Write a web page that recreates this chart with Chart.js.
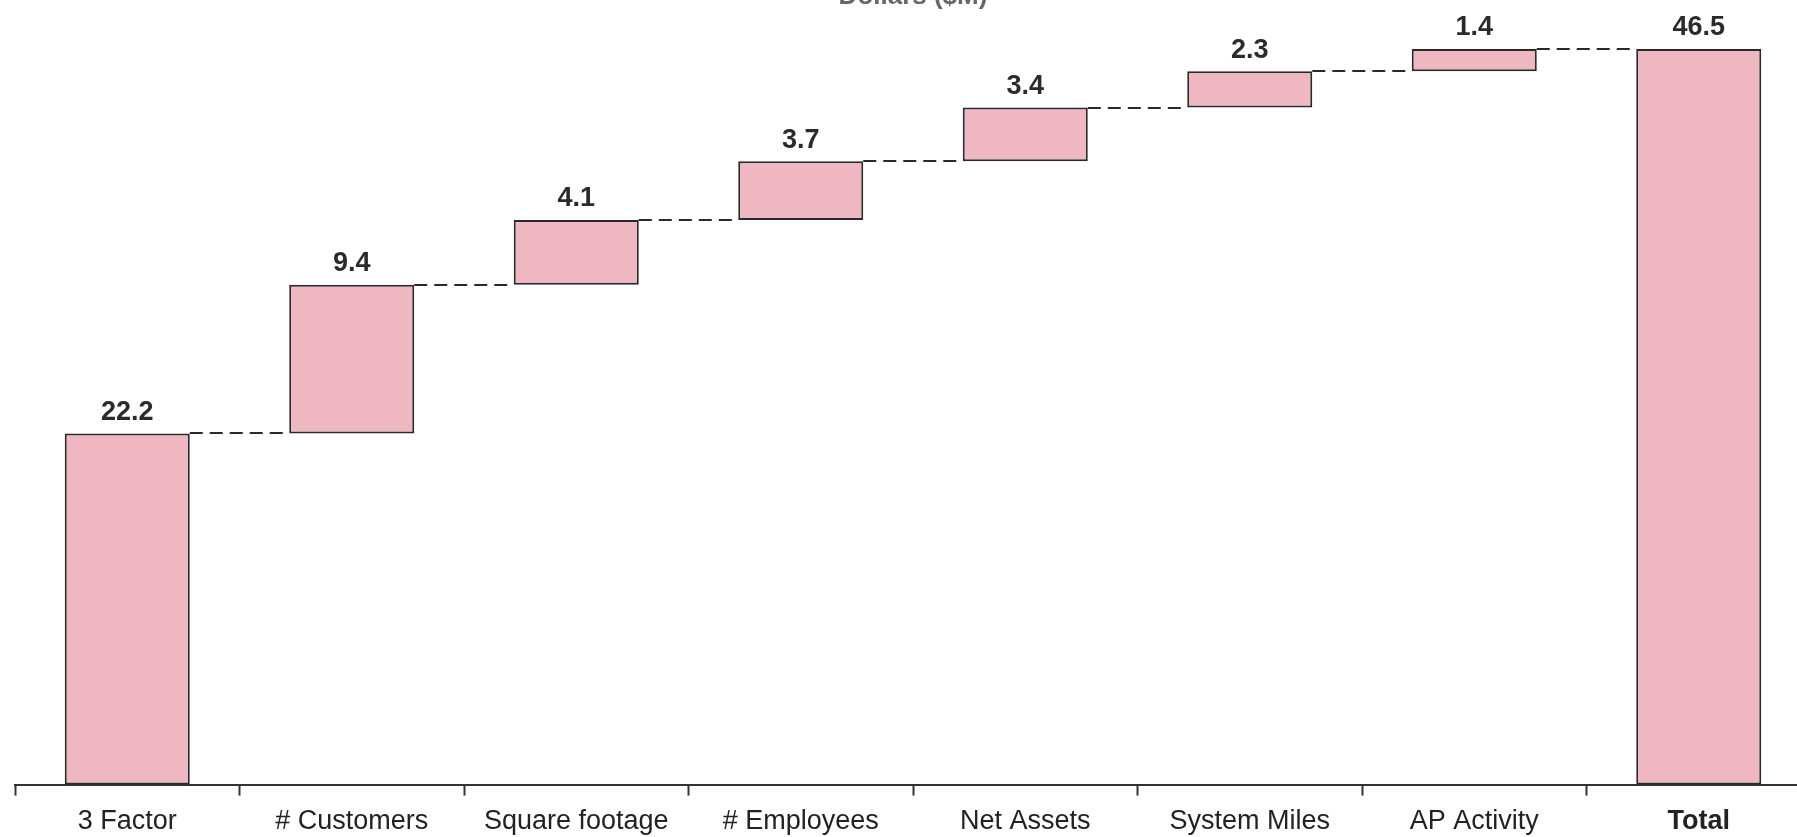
<!DOCTYPE html>
<html>
<head>
<meta charset="utf-8">
<script src="https://cdn.jsdelivr.net/npm/chart.js@4.4.1/dist/chart.umd.min.js"></script>
<style>
  html, body { margin: 0; padding: 0; background: #fff; overflow: hidden; }
  #wrap { position: absolute; left: 0; top: 0; width: 1815px; height: 848px; }
</style>
</head>
<body>
<div id="wrap"><canvas id="grafik" width="1815" height="848"></canvas></div>
<script>
const kategori = ['3 Factor', '# Customers', 'Square footage', '# Employees', 'Net Assets', 'System Miles', 'AP Activity', 'Total'];
const nilai = [22.2, 9.4, 4.1, 3.7, 3.4, 2.3, 1.4];
const total = 46.5;
const judul = 'Dollars ($M)';

// floating bars: each step starts where the previous one ended
const rentang = [];
let jalan = 0;
nilai.forEach(v => {
    rentang.push([jalan, +(jalan + v).toFixed(1)]);
    jalan += v;
});
rentang.push([0, total]);
const label = nilai.concat([total]);

const garisPutus = {
    id: 'garisPutus',
    afterDatasetsDraw(chart) {
        const ctx = chart.ctx;
        const bars = chart.getDatasetMeta(0).data;
        const y = chart.scales.y;
        ctx.save();
        ctx.strokeStyle = '#2a2a2a';
        ctx.lineWidth = 2;
        ctx.setLineDash([13, 7]);
        for (let i = 0; i < bars.length - 1; i++) {
            const py = Math.round(y.getPixelForValue(rentang[i][1]));
            ctx.beginPath();
            ctx.moveTo(bars[i].x + bars[i].width / 2, py);
            ctx.lineTo(bars[i + 1].x - bars[i + 1].width / 2, py);
            ctx.stroke();
        }
        ctx.restore();
    }
};

const labelAtas = {
    id: 'labelAtas',
    afterDatasetsDraw(chart) {
        const ctx = chart.ctx;
        const bars = chart.getDatasetMeta(0).data;
        const y = chart.scales.y;
        ctx.save();
        ctx.fillStyle = '#2b2b2b';
        ctx.font = 'bold 27px "Liberation Sans", Arial, sans-serif';
        ctx.textAlign = 'center';
        ctx.textBaseline = 'middle';
        bars.forEach((b, i) => {
            const top = y.getPixelForValue(rentang[i][1]);
            ctx.fillText(label[i].toFixed(1), b.x, top - 21);
        });
        // title, mostly cut off at the top edge like the source
        ctx.fillStyle = '#666';
        ctx.font = 'bold 26px "Liberation Sans", Arial, sans-serif';
        ctx.textBaseline = 'alphabetic';
        ctx.fillText(judul, (chart.chartArea.left + chart.chartArea.right) / 2, 4);
        ctx.restore();
    }
};

new Chart(document.getElementById('grafik').getContext('2d'), {
    type: 'bar',
    data: {
        labels: kategori,
        datasets: [{
            data: rentang,
            backgroundColor: '#EFB7C1',
            borderColor: '#2a2a2a',
            borderWidth: 2,
            borderSkipped: false,
            barPercentage: 0.557,
            categoryPercentage: 1,
        }]
    },
    options: {
        responsive: false,
        animation: false,
        layout: { padding: { left: 15, right: 4, top: 0, bottom: 0 } },
        plugins: {
            legend: { display: false },
            tooltip: { enabled: false },
        },
        scales: {
            y: {
                display: false,
                min: 0,
                max: 49.6,
            },
            x: {
                offset: true,
                grid: {
                    offset: true,
                    drawOnChartArea: false,
                    drawTicks: true,
                    tickLength: 11,
                    tickWidth: 2,
                    tickColor: '#333',
                },
                border: { display: true, color: '#333', width: 2 },
                ticks: {
                    padding: 10,
                    color: '#222',
                    maxRotation: 0,
                    font: (c) => ({
                        family: '"Liberation Sans", Arial, sans-serif',
                        size: 27,
                        weight: c.index === 7 ? 'bold' : 'normal',
                    }),
                },
            },
        },
    },
    plugins: [garisPutus, labelAtas],
});
</script>
</body>
</html>
